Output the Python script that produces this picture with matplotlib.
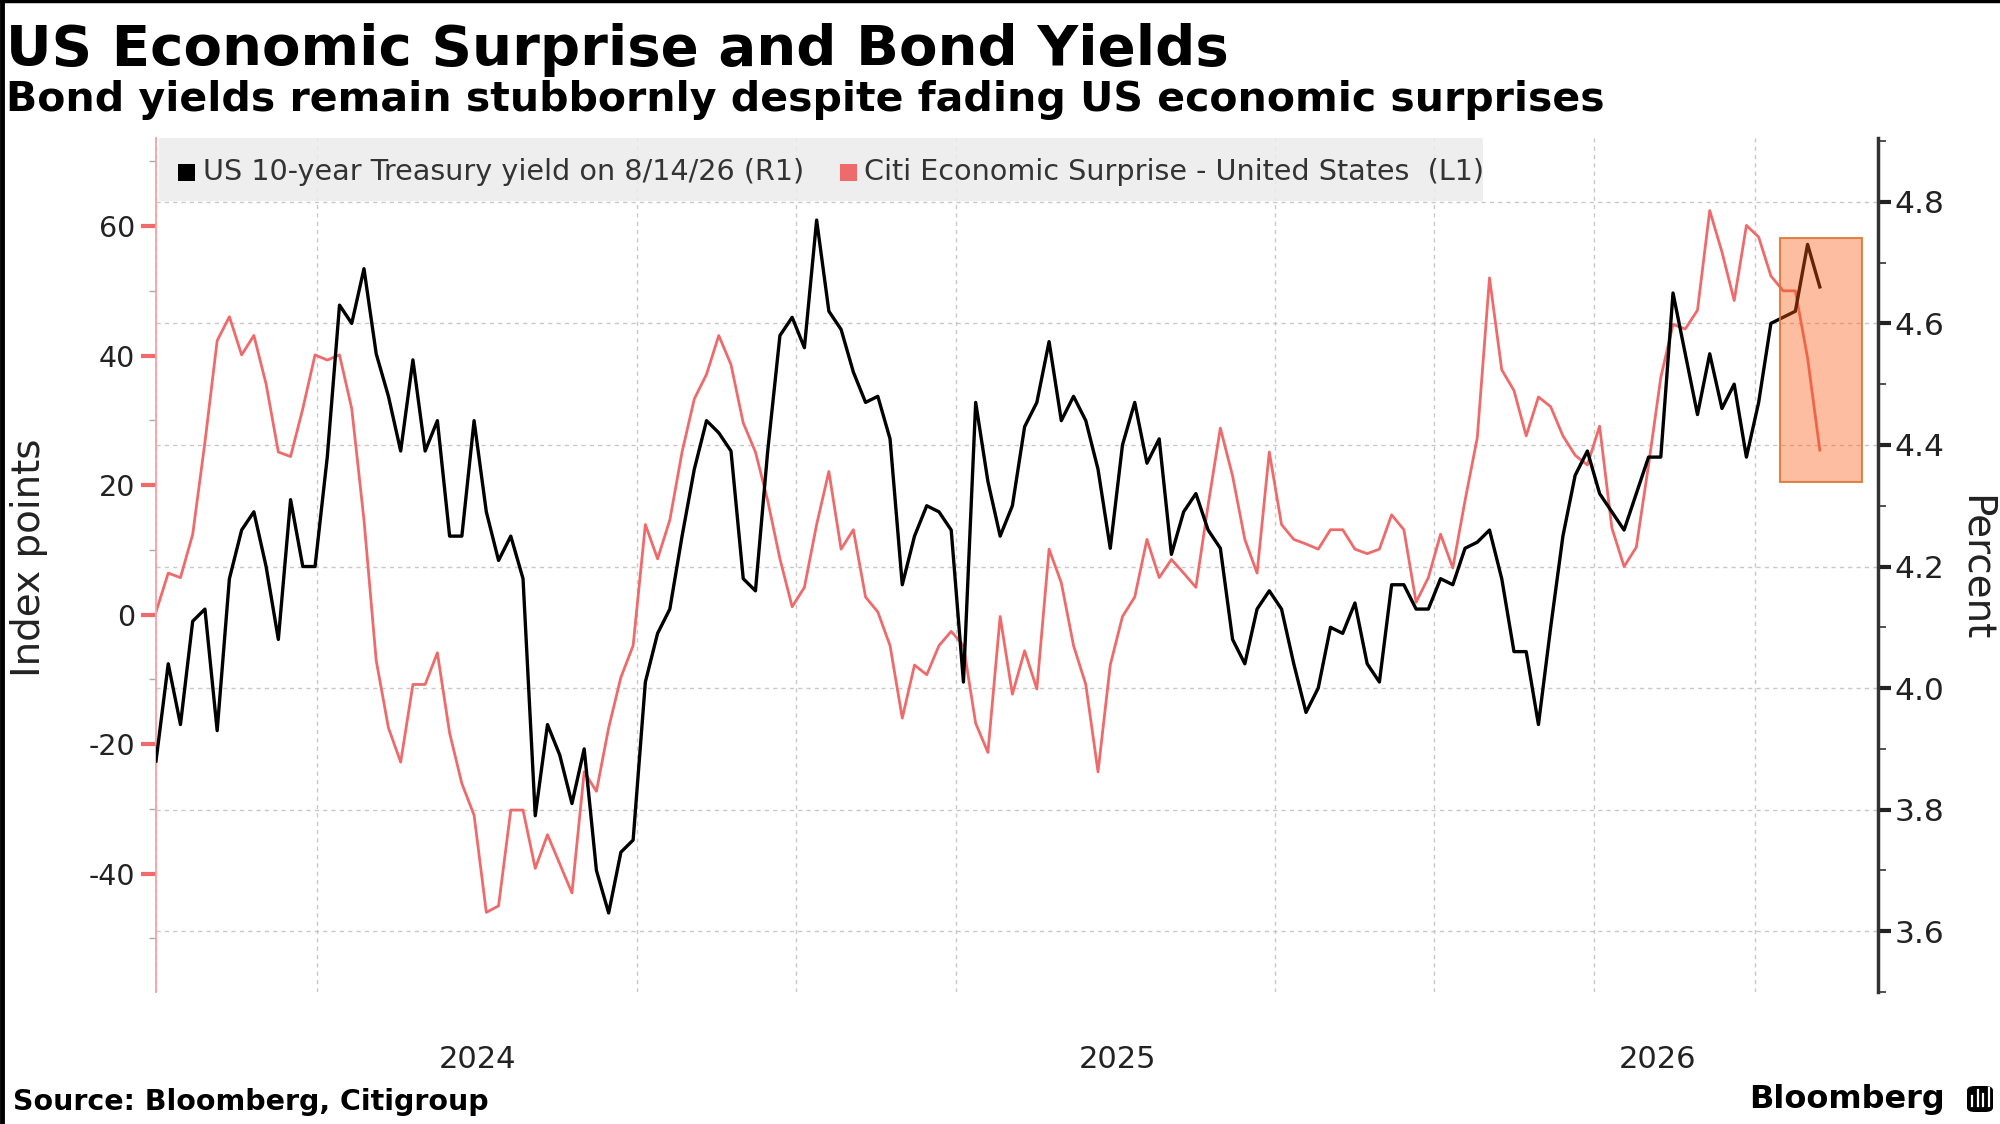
import pandas as pd
import matplotlib
matplotlib.use("Agg")
import matplotlib.pyplot as plt
import matplotlib.dates as mdates
import matplotlib.transforms as mtransforms
from matplotlib.patches import Rectangle, FancyBboxPatch
from matplotlib.lines import Line2D

plt.rcParams["axes.unicode_minus"] = False

# weekly readings from the chart, starting 2023-07-01
start_date = "2023-07-01"

treasury_10y = [
    3.88, 4.04, 3.94, 4.11, 4.13, 3.93, 4.18, 4.26, 4.29, 4.20,
    4.08, 4.31, 4.20, 4.20, 4.38, 4.63, 4.60, 4.69, 4.55, 4.48,
    4.39, 4.54, 4.39, 4.44, 4.25, 4.25, 4.44, 4.29, 4.21, 4.25,
    4.18, 3.79, 3.94, 3.89, 3.81, 3.90, 3.70, 3.63, 3.73, 3.75,
    4.01, 4.09, 4.13, 4.25, 4.36, 4.44, 4.42, 4.39, 4.18, 4.16,
    4.39, 4.58, 4.61, 4.56, 4.77, 4.62, 4.59, 4.52, 4.47, 4.48,
    4.41, 4.17, 4.25, 4.30, 4.29, 4.26, 4.01, 4.47, 4.34, 4.25,
    4.30, 4.43, 4.47, 4.57, 4.44, 4.48, 4.44, 4.36, 4.23, 4.40,
    4.47, 4.37, 4.41, 4.22, 4.29, 4.32, 4.26, 4.23, 4.08, 4.04,
    4.13, 4.16, 4.13, 4.04, 3.96, 4.00, 4.10, 4.09, 4.14, 4.04,
    4.01, 4.17, 4.17, 4.13, 4.13, 4.18, 4.17, 4.23, 4.24, 4.26,
    4.18, 4.06, 4.06, 3.94, 4.10, 4.25, 4.35, 4.39, 4.32, 4.29,
    4.26, 4.32, 4.38, 4.38, 4.65, 4.55, 4.45, 4.55, 4.46, 4.50,
    4.38, 4.47, 4.60, 4.61, 4.62, 4.73, 4.66,
]

citi_surprise = [
    0.4, 6.4, 5.7, 12.4, 26.6, 42.3, 46.0, 40.1, 43.1, 35.6,
    25.1, 24.4, 31.8, 40.1, 39.3, 40.1, 31.8, 14.6, -7.1, -17.5,
    -22.8, -10.8, -10.8, -5.9, -18.3, -26.1, -31.0, -46.0, -45.0, -30.2,
    -30.2, -39.2, -34.0, -38.5, -43.0, -24.3, -27.3, -17.5, -9.7, -4.8,
    13.9, 8.6, 14.6, 25.1, 33.3, 37.1, 43.1, 38.6, 29.6, 25.1,
    17.6, 8.6, 1.2, 4.2, 13.9, 22.1, 10.1, 13.1, 2.7, 0.4,
    -4.8, -16.0, -7.8, -9.3, -4.8, -2.6, -4.8, -16.8, -21.3, -0.3,
    -12.3, -5.6, -11.5, 10.1, 4.9, -4.8, -10.8, -24.3, -7.8, -0.3,
    2.7, 11.6, 5.7, 8.5, 6.4, 4.2, 16.9, 28.8, 21.4, 11.6,
    6.4, 25.1, 13.9, 11.6, 10.9, 10.1, 13.1, 13.1, 10.1, 9.4,
    10.1, 15.4, 13.1, 1.9, 5.7, 12.4, 7.2, 17.6, 27.3, 52.0,
    37.8, 34.6, 27.6, 33.6, 32.1, 27.6, 24.6, 23.1, 29.1, 13.4,
    7.4, 10.4, 23.1, 36.6, 44.8, 44.1, 47.0, 62.4, 56.0, 48.5,
    60.1, 58.3, 52.3, 50.0, 50.0, 39.6, 25.4,
]

year_tick_dates = ["2024-01-01", "2025-01-01", "2025-11-06"]
year_tick_labels = ["2024", "2025", "2026"]
left_ticks = [-40, -20, 0, 20, 40, 60]
right_ticks = [3.6, 3.8, 4.0, 4.2, 4.4, 4.6, 4.8]

# highlighted window
box_start, box_end = "2026-01-15", "2026-03-03"
box_low, box_high = 4.339, 4.740

dates = pd.date_range(start_date, periods=len(treasury_10y), freq="7D")

RED = "#ef6a6a"
GRID = "#c8c8c8"
TXT = "#222222"

fig = plt.figure(figsize=(20, 11.24), dpi=100)
ax = fig.add_axes([0.078, 0.11744, 0.86075, 0.75978])
ax2 = ax.twinx()

ax.set_xlim(pd.Timestamp("2023-07-01"), pd.Timestamp("2026-03-12"))
ax.set_ylim(-58.3, 73.6)
ax2.set_ylim(3.502, 4.905)

# vertical grid at quarter starts (minor), labels on majors
ax.xaxis.set_minor_locator(mdates.MonthLocator(bymonth=[1, 4, 7, 10]))
ax.set_xticks(pd.to_datetime(year_tick_dates))
ax.set_xticklabels(year_tick_labels)
ax.tick_params(axis="x", which="both", length=0, pad=38, labelsize=22, labelcolor=TXT)
ax.grid(True, axis="x", which="minor", color=GRID, linestyle=(0, (3, 3)), linewidth=1)
ax.grid(False, axis="x", which="major")

# horizontal grid at right-axis majors, drawn behind the lines
trans = mtransforms.blended_transform_factory(ax.transAxes, ax2.transData)
for v in right_ticks:
    ax.add_line(Line2D([0, 1], [v, v], transform=trans, color=GRID,
                       linestyle=(0, (3, 3)), linewidth=1, zorder=0.5))

ax.plot(dates, citi_surprise, color=RED, linewidth=2.0, zorder=2)
ax2.plot(dates, treasury_10y, color="black", linewidth=2.4, zorder=3)

# left axis
ax.set_yticks(left_ticks)
ax.set_yticks(range(-50, 71, 10), minor=True)
ax.tick_params(axis="y", which="major", direction="out", length=11, width=3,
               color=RED, pad=4, labelsize=20.5, labelcolor=TXT)
ax.tick_params(axis="y", which="minor", direction="out", length=5, width=1, color="#aaaaaa")
for s in ["top", "bottom", "right"]:
    ax.spines[s].set_visible(False)
ax.spines["left"].set_color("#f4a3a3")
ax.spines["left"].set_linewidth(1.3)

# right axis
ax2.set_yticks(right_ticks)
ax2.set_yticks([3.5, 3.7, 3.9, 4.1, 4.3, 4.5, 4.7, 4.9], minor=True)
ax2.yaxis.set_major_formatter(matplotlib.ticker.FormatStrFormatter("%.1f"))
ax2.tick_params(axis="y", which="major", direction="out", length=9, width=3,
                color="#222222", pad=3, labelsize=22.5, labelcolor=TXT)
ax2.tick_params(axis="y", which="minor", direction="out", length=6, width=1.2, color="#333333")
for s in ["top", "bottom", "left"]:
    ax2.spines[s].set_visible(False)
ax2.spines["right"].set_color("#333333")
ax2.spines["right"].set_linewidth(2.5)

# highlight box
bx0 = mdates.date2num(pd.Timestamp(box_start))
bx1 = mdates.date2num(pd.Timestamp(box_end))
ax2.add_patch(Rectangle((bx0, box_low), bx1 - bx0, box_high - box_low,
                        facecolor=(0.98, 0.36, 0.08, 0.40),
                        edgecolor=(0.85, 0.45, 0.2, 0.85), linewidth=1.5, zorder=4))

# legend band
ax2.add_patch(Rectangle((0.002, 0.9262), 0.7688, 0.0738, transform=ax2.transAxes,
                        facecolor="#ececec", alpha=0.85, edgecolor="none", zorder=5))
ax2.add_patch(Rectangle((0.0126, 0.9502), 0.0099, 0.0199, transform=ax2.transAxes,
                        facecolor="black", edgecolor="none", zorder=6))
ax2.text(0.0271, 0.9602, "US 10-year Treasury yield on 8/14/26 (R1)", transform=ax2.transAxes,
         fontsize=20.6, color="#333333", va="center", ha="left", zorder=6)
ax2.add_patch(Rectangle((0.3972, 0.9502), 0.0099, 0.0199, transform=ax2.transAxes,
                        facecolor=RED, edgecolor="none", zorder=6))
ax2.text(0.4113, 0.9602, "Citi Economic Surprise - United States  (L1)", transform=ax2.transAxes,
         fontsize=20.6, color="#333333", va="center", ha="left", zorder=6)

# axis titles
fig.text(29 / 2000, 1 - 558 / 1124, "Index points", rotation=90, ha="center", va="center",
         fontsize=28, color=TXT)
fig.text(1976 / 2000, 1 - 568 / 1124, "Percent", rotation=270, ha="center", va="center",
         fontsize=28, color=TXT)

# titles
fig.text(0.003, 1 - 65 / 1124, "US Economic Surprise and Bond Yields", fontsize=40.5,
         fontweight="bold", ha="left", va="baseline", color="black")
fig.text(0.003, 1 - 111 / 1124, "Bond yields remain stubbornly despite fading US economic surprises",
         fontsize=29.5, fontweight="bold", ha="left", va="baseline", color="black")

# footer
fig.text(13 / 2000, 1 - 1110 / 1124, "Source: Bloomberg, Citigroup", fontsize=20.5,
         fontweight="bold", ha="left", va="baseline", color="black")
fig.text(1945 / 2000, 1 - 1108 / 1124, "Bloomberg", fontsize=23, fontweight="bold",
         ha="right", va="baseline", color="black")
fig.add_artist(FancyBboxPatch((1967 / 2000, 1 - 1112 / 1124), 26 / 2000, 26 / 1124,
                              boxstyle="round,pad=0,rounding_size=0.004",
                              transform=fig.transFigure, facecolor="black", edgecolor="none"))
for i, h in enumerate([10, 16, 12, 18]):
    x = (1972 + i * 5.5) / 2000
    fig.add_artist(Line2D([x, x], [1 - 1106 / 1124, 1 - (1106 - h) / 1124],
                          transform=fig.transFigure, color="white", linewidth=1.6))

# frame edges
fig.add_artist(Line2D([0.0012, 0.0012], [0, 1], transform=fig.transFigure, color="black", linewidth=3.5))
fig.add_artist(Line2D([0, 1], [0.9988, 0.9988], transform=fig.transFigure, color="black", linewidth=2.5))

fig.savefig("out.png", dpi=100)
